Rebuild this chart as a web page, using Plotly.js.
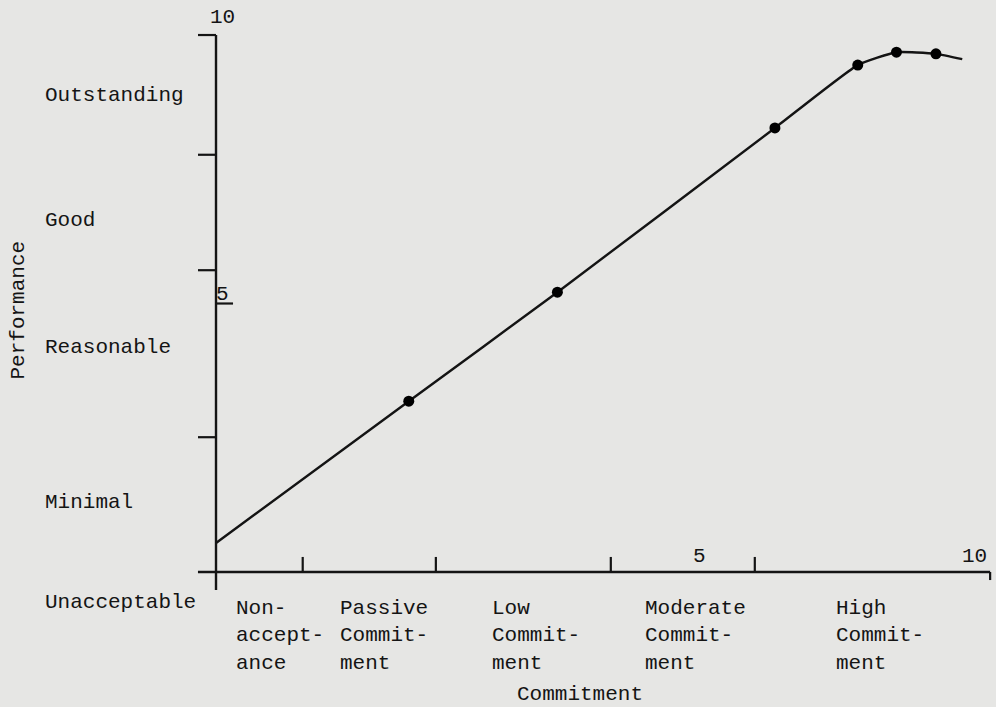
<!DOCTYPE html>
<html>
<head>
<meta charset="utf-8">
<script src="https://cdn.plot.ly/plotly-3.0.1.min.js"></script>
<style>
  html, body { margin: 0; padding: 0; background: #e6e6e4; }
  #chart { width: 996px; height: 707px; }
</style>
</head>
<body>
<div id="chart"></div>
<script>
// ---- data ----
const commitment  = [0, 2.49, 4.41, 7.22, 8.29, 8.79, 9.30, 9.64];
const performance = [0.54, 3.18, 5.21, 8.27, 9.44, 9.68, 9.65, 9.55];
const markerShown = [false, true, true, true, true, true, true, false];

const performanceLevels = ['Outstanding', 'Good', 'Reasonable', 'Minimal', 'Unacceptable'];
const levelCentres      = [8.88, 6.54, 4.19, 1.30, -0.56];

const commitmentStages = ['Non-<br>accept-<br>ance', 'Passive<br>Commit-<br>ment', 'Low<br>Commit-<br>ment',
                          'Moderate<br>Commit-<br>ment', 'High<br>Commit-<br>ment'];
const stageLeft = [0.23, 1.57, 3.54, 5.51, 7.98];

const yTickVals = [2.51, 5.62, 7.77, 10];
const xTickVals = [1.12, 2.84, 5.10, 6.96];
const yNumberLabels = ['10', '5'];
const yNumberVals   = [10.33, 5.17];
const xNumberLabels = ['5', '10'];
const xNumberVals   = [6.25, 9.80];

// ---- layout helpers ----
const FONT = 'Liberation Mono, Courier New, monospace';
const INK = '#141414';
const fs = 21;
const ML = 190, MB = 100;

const shapes = [];
const line = (x0, y0, x1, y1, w) => shapes.push({type: 'line', xref: 'x', yref: 'y', x0, y0, x1, y1,
  line: {color: INK, width: w || 2.2}});

// axes
line(0, -0.335, 0, 10, 2.4);
line(-0.233, 0, 10, 0, 2.4);
// left ticks on y axis
yTickVals.forEach(v => line(-0.233, v, 0, v, 2.2));
// the underline tick at 5
line(0, 5, 0.22, 5, 2.2);
// upward ticks on x axis
xTickVals.forEach(v => line(v, 0, v, 0.28, 2.2));
// small downward tick at the end of x axis
line(10, 0, 10, -0.15, 2.2);

const txt = (o) => Object.assign({showarrow: false, font: {family: FONT, size: fs, color: INK}}, o);
const annotations = [];
performanceLevels.forEach((t, i) => annotations.push(txt({
  text: t, xref: 'paper', x: 0, xanchor: 'left', xshift: 43 - ML, yref: 'y', y: levelCentres[i], yanchor: 'middle'
})));
commitmentStages.forEach((t, i) => annotations.push(txt({
  text: t, xref: 'x', x: stageLeft[i], xanchor: 'left', yref: 'y', y: -0.43, yanchor: 'top', align: 'left'
})));
yNumberLabels.forEach((t, i) => annotations.push(txt({
  text: t, xref: 'x', x: 0.09, xanchor: 'center', yref: 'y', y: yNumberVals[i], yanchor: 'middle'
})));
xNumberLabels.forEach((t, i) => annotations.push(txt({
  text: t, xref: 'x', x: xNumberVals[i], xanchor: 'center', yref: 'y', y: 0.28, yanchor: 'middle'
})));
// axis titles
annotations.push(txt({
  text: 'Commitment', xref: 'x', x: 4.70, xanchor: 'center', yref: 'paper', y: 0, yshift: -(694 - 607), yanchor: 'middle'
}));
annotations.push(txt({
  text: 'Performance', xref: 'paper', x: 0, xshift: 18 - ML, xanchor: 'center', yref: 'y', y: 4.87,
  yanchor: 'middle', textangle: -90
}));

const trace = {
  x: commitment, y: performance, type: 'scatter', mode: 'lines+markers',
  line: {color: INK, width: 2.4, shape: 'spline', smoothing: 0.45},
  marker: {color: '#000000', opacity: 1, size: markerShown.map(s => s ? 11 : 0), line: {width: 0}},
  hoverinfo: 'skip', cliponaxis: false
};

const layout = {
  width: 996, height: 707,
  margin: {l: ML, r: 2, t: 10, b: MB},
  paper_bgcolor: '#e6e6e4', plot_bgcolor: '#e6e6e4',
  showlegend: false,
  xaxis: {range: [-0.336, 10.05], visible: false, fixedrange: true},
  yaxis: {range: [-0.652, 10.466], visible: false, fixedrange: true},
  shapes, annotations
};

Plotly.newPlot('chart', [trace], layout, {displayModeBar: false, staticPlot: true});
</script>
</body>
</html>
